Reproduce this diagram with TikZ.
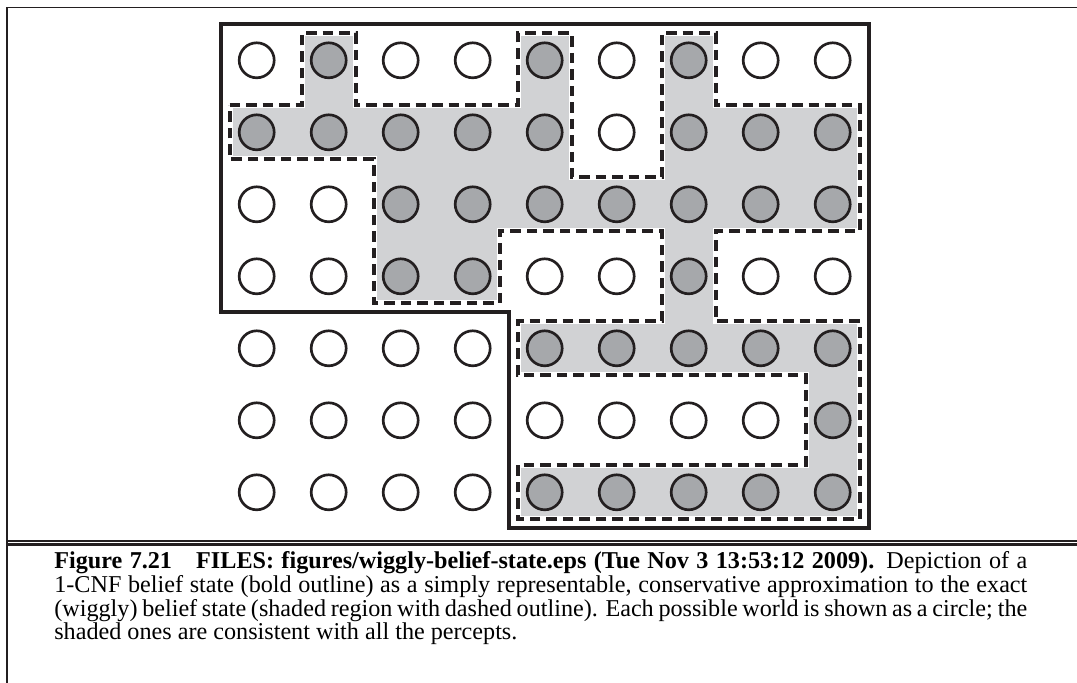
\documentclass[tikz,border=0pt]{standalone}
\usepackage{fontspec}
\setmainfont{Liberation Serif}

\definecolor{ink}{RGB}{35,31,32}
\definecolor{beliefgrey}{RGB}{209,210,212}
\definecolor{ws}{RGB}{166,168,171}
\colorlet{wo}{white}
\lineskiplimit=-10pt

\begin{document}
\begin{tikzpicture}[x=0.6pt, y=-0.6pt,
        world/.style={
            circle, draw=ink, line width=1.6pt,
            minimum size=21pt, inner sep=0pt
        },
        cnfline/.style={draw=ink, line width=2.5pt, line join=miter},
        halo/.style={draw=white, line width=3.6pt},
        wiggly/.style={draw=ink, line width=2.3pt, dash pattern=on 6.3pt off 3.6pt},
        caption/.style={
            anchor=north west, inner sep=0pt,
            text width=583.8pt, align=justify,
            font=\fontsize{14.5}{12.9}\selectfont
        }
    ]
        \useasboundingbox (0,0) rectangle (1077,683);

        % frame and rules
        \draw[ink, line width=1pt] (6.7,683) -- (6.7,7.5) -- (1077,7.5);
        \draw[ink, line width=1pt] (6.7,541) -- (1077,541);
        \draw[ink, line width=1.6pt] (6.7,544.7) -- (1077,544.7);

        \begin{scope}[shift={(220.7,24.3)}, x=43.2pt, y=-43.2pt]
            % exact belief state
            \path[fill=beliefgrey, postaction={halo}, postaction={wiggly}]
                (0.125,1.125) -- (1.125,1.125) -- (1.125,0.125) -- (1.875,0.125)
                -- (1.875,1.125) -- (4.125,1.125) -- (4.125,0.125) -- (4.875,0.125)
                -- (4.875,2.125) -- (6.125,2.125) -- (6.125,0.125) -- (6.875,0.125)
                -- (6.875,1.125) -- (8.875,1.125) -- (8.875,2.875) -- (6.875,2.875)
                -- (6.875,4.125) -- (8.875,4.125) -- (8.875,6.875) -- (4.125,6.875)
                -- (4.125,6.125) -- (8.125,6.125) -- (8.125,4.875) -- (4.125,4.875)
                -- (4.125,4.125) -- (6.125,4.125) -- (6.125,2.875) -- (3.875,2.875)
                -- (3.875,3.875) -- (2.125,3.875) -- (2.125,1.875) -- (0.125,1.875)
                -- cycle;

            % 1-CNF belief state
            \draw[cnfline] (0,0) -- (9,0) -- (9,7) -- (4,7) -- (4,4) -- (0,4) -- cycle;

            % possible worlds
            \foreach \cells [count=\r from 0] in {
                    {wo,ws,wo,wo,ws,wo,ws,wo,wo},
                    {ws,ws,ws,ws,ws,wo,ws,ws,ws},
                    {wo,wo,ws,ws,ws,ws,ws,ws,ws},
                    {wo,wo,ws,ws,wo,wo,ws,wo,wo},
                    {wo,wo,wo,wo,ws,ws,ws,ws,ws},
                    {wo,wo,wo,wo,wo,wo,wo,wo,ws},
                    {wo,wo,wo,wo,ws,ws,ws,ws,ws}}
                \foreach \col [count=\c from 0] in \cells
                    \node[world, fill=\col] (w-\r-\c) at (\c+0.5,\r+0.5) {};
        \end{scope}

        \node[caption] (cap) at (54,551) {%
            \textbf{Figure 7.21}\quad\textbf{FILES: figures/wiggly-belief-state.eps
            (Tue Nov 3 13:53:12 2009).}\enspace Depiction of a\linebreak
            1-CNF belief state (bold outline) as a simply representable, conservative
            approximation to the exact\linebreak
            (wiggly) belief state (shaded region with dashed outline). Each possible world
            is shown as a circle; the\linebreak
            shaded ones are consistent with all the percepts.
        };
    \end{tikzpicture}
\end{document}
